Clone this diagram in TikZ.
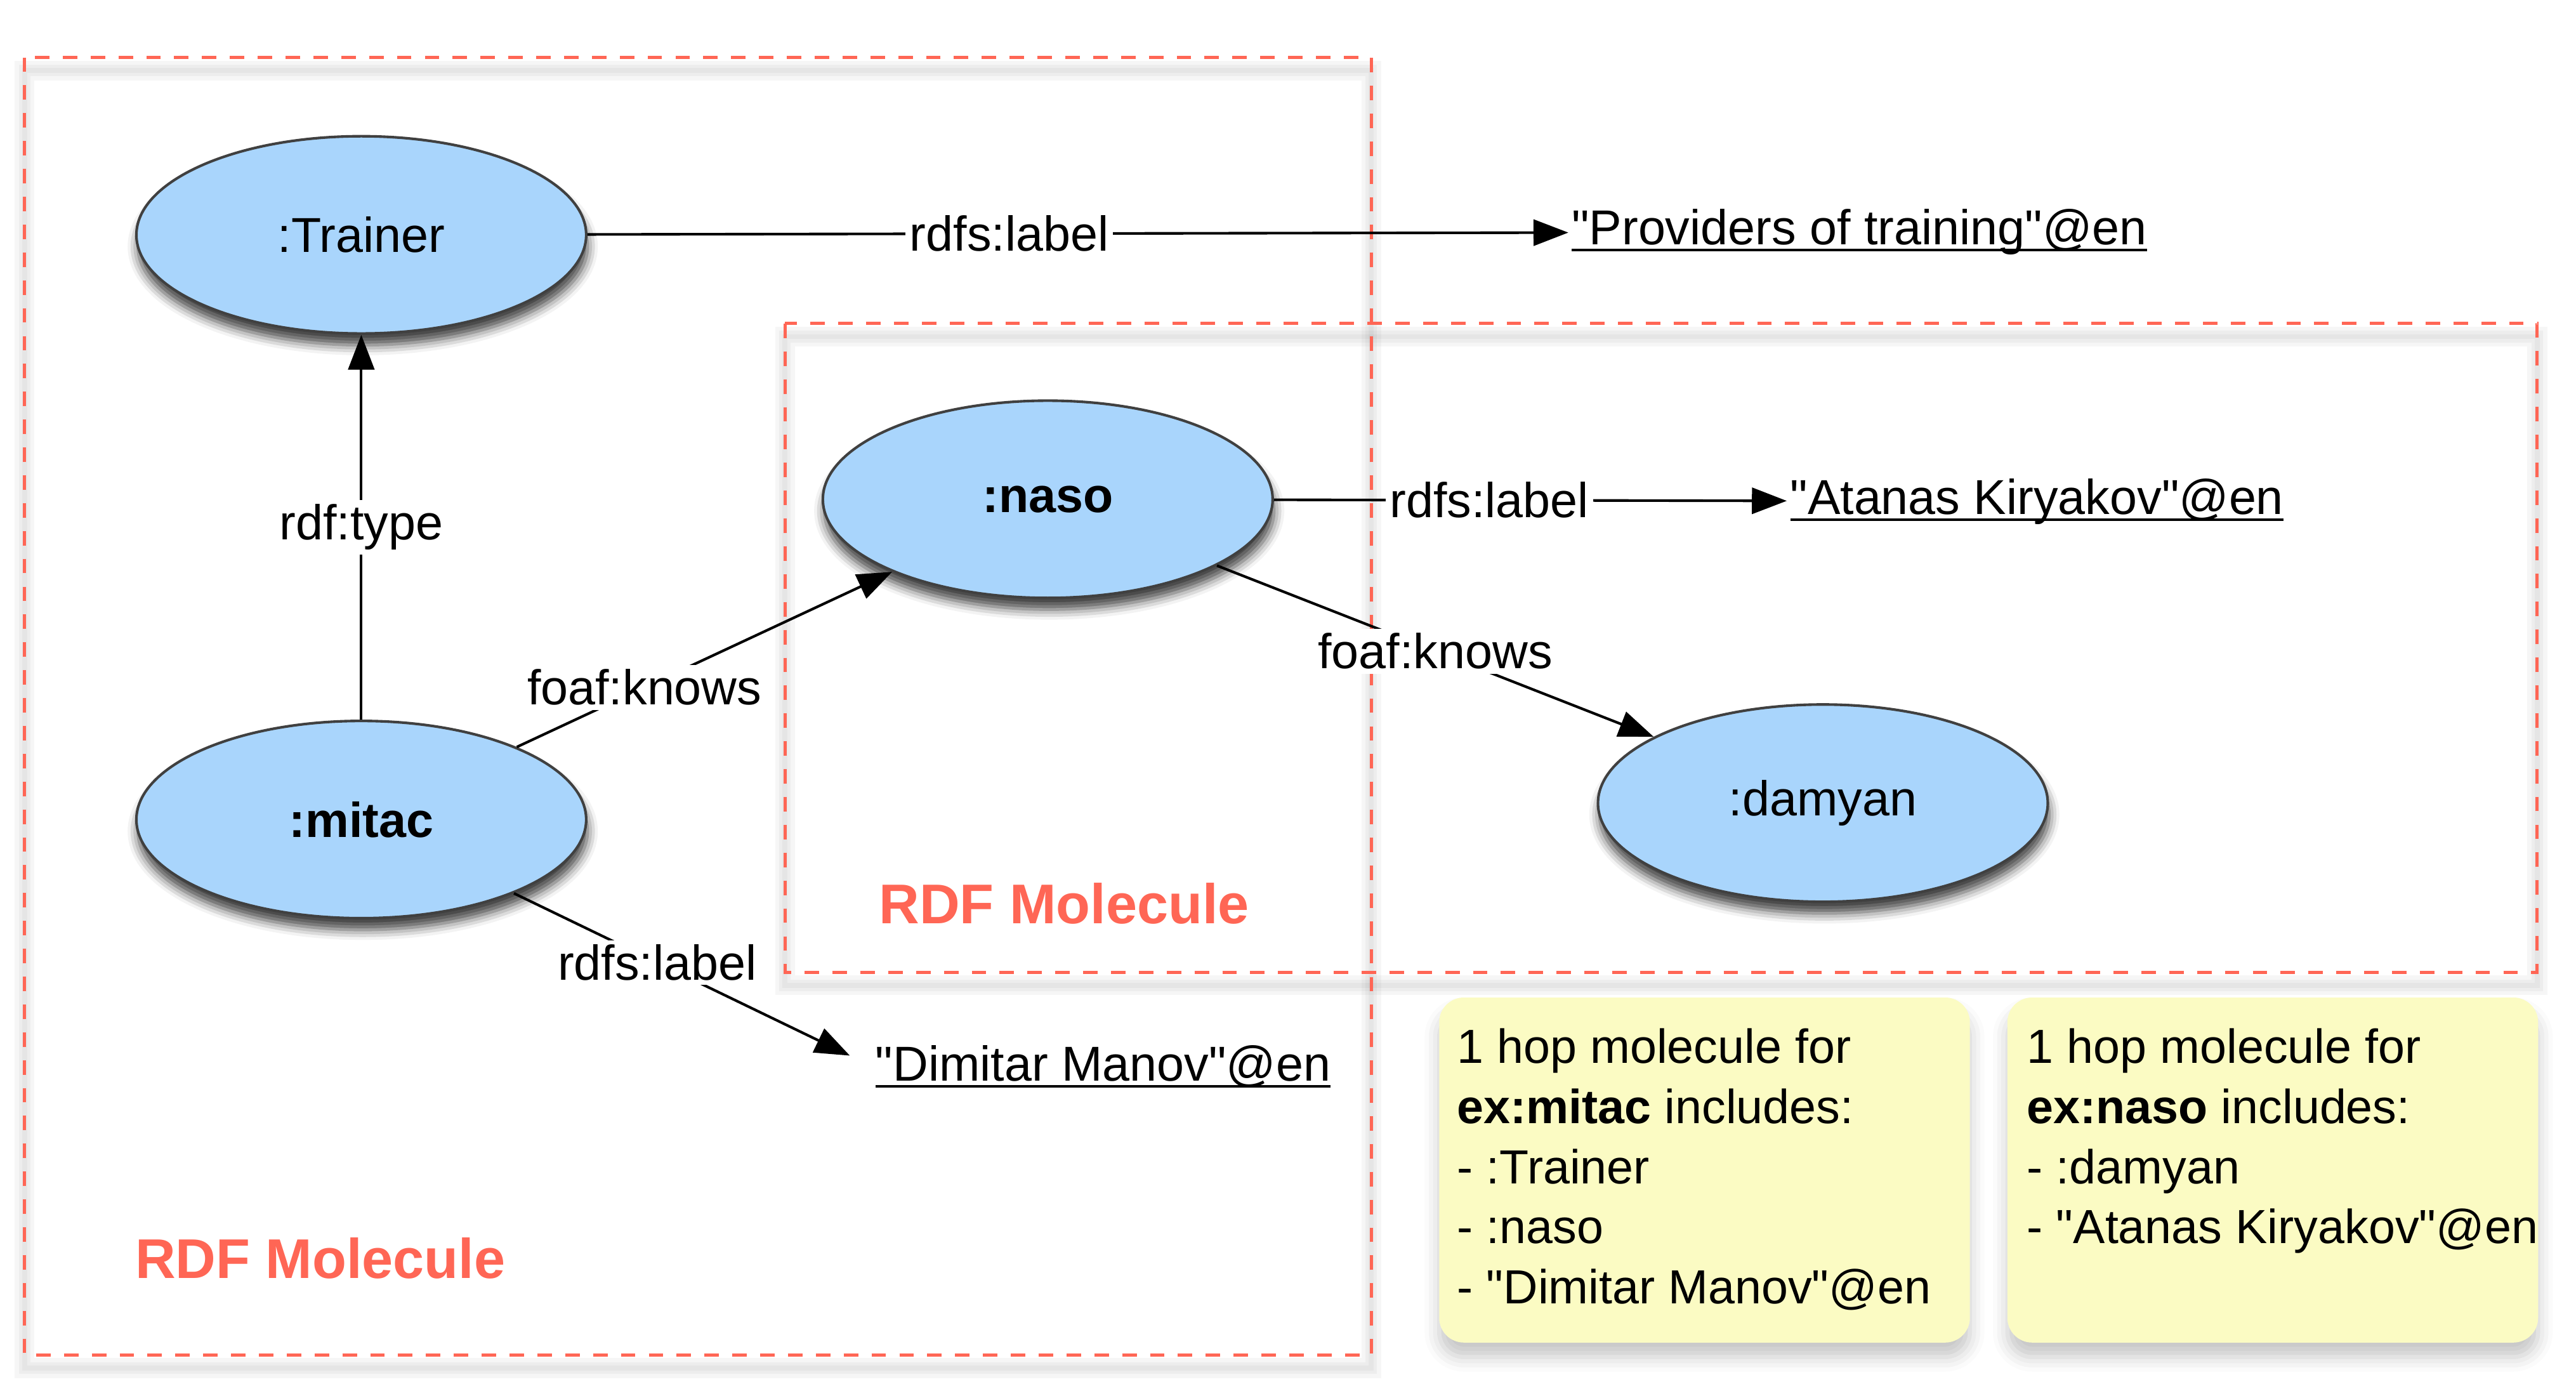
\documentclass[tikz,border=0pt]{standalone}
\usepackage{fontspec}
\setmainfont{Liberation Sans}
\usetikzlibrary{shapes.geometric,arrows.meta,shadows.blur}

\definecolor{resblue}{HTML}{A9D5FC}
\definecolor{molred}{HTML}{FF6655}
\definecolor{noteyellow}{HTML}{FBFBC3}

\newcommand{\txtsize}{\fontsize{16.9}{20.6}\selectfont}
\newcommand{\q}{\textquotedbl}
\newcommand{\litul}[1]{\setbox0\hbox{#1}\rlap{\rule[-2.3pt]{\wd0}{0.85pt}}\box0}

\tikzset{
  res/.style={ellipse, draw=black!75, line width=0.9pt, fill=resblue, inner sep=0pt,
    minimum width=5.45cm, minimum height=2.39cm,
    blur shadow={shadow xshift=0.5pt, shadow yshift=-4pt, shadow blur radius=3.5pt, shadow opacity=75}},
  lit/.style={inner sep=1pt},
  lbl/.style={fill=white, inner sep=1.5pt},
  rel/.style={line width=0.9pt, -{Triangle[length=12pt, width=9pt]}},
  molbox/.style={draw=molred, line width=1.1pt, dash pattern=on 5pt off 4.6pt},
  molshadow/.style={draw=black, opacity=0.035, yshift=-4.5pt},
  moltitle/.style={text=molred, font=\fontsize{19.3}{23}\selectfont\bfseries},
  note/.style={fill=noteyellow, rounded corners=8.5pt, minimum width=6.43cm, minimum height=4.18cm,
    anchor=north west, blur shadow={shadow xshift=0pt, shadow yshift=-5pt, shadow blur radius=5pt, shadow opacity=22}},
  notetext/.style={align=left, inner sep=0pt, anchor=north west, font=\fontsize{16.5}{20.7}\selectfont}
}

\begin{document}
\begin{tikzpicture}[x=0.01989cm, y=-0.01989cm, font=\txtsize]
\useasboundingbox (0,0) rectangle (1568.6,849.6);

% molecule boxes (with a faint shadow under the dashes)
\foreach \w in {12,7,3} {
  \draw[molshadow, line width=\w*0.569pt] (15,35) rectangle (835,825);
  \draw[molshadow, line width=\w*0.569pt] (478,197) rectangle (1545,592);
}
\draw[molbox] (15,35) rectangle (835,825);
\draw[molbox] (478,197) rectangle (1545,592);

\node[moltitle] (molA) at (195,766) {RDF Molecule};
\node[moltitle] (molB) at (648,550) {RDF Molecule};

% resources
\node[res] (trainer) at (220,143) {:Trainer};
\node[res] (naso) at (638,304) {\textbf{:naso}};
\node[res] (mitac) at (220,499) {\textbf{:mitac}};
\node[res] (damyan) at (1110,489) {:damyan};

% literals
\node[lit, anchor=base west] (providers) at (955,149) {\litul{\q Providers of training\q @en}};
\node[lit, anchor=base west] (atanas) at (1088,313) {\litul{\q Atanas Kiryakov\q @en}};
\node[lit, anchor=base west] (dimitar) at (531,658) {\litul{\q Dimitar Manov\q @en}};

% properties
\draw[rel] (trainer) -- node[lbl, pos=0.43] {rdfs:label} (providers);
\draw[rel] (mitac) -- node[lbl, pos=0.5] {rdf:type} (trainer);
\draw[rel] (mitac) -- node[lbl, pos=0.34] {foaf:knows} (naso);
\draw[rel, shorten >=8.5pt] (mitac) -- node[lbl, pos=0.4] {rdfs:label} (dimitar.west);
\draw[rel] (naso) -- node[lbl, pos=0.42] {rdfs:label} (atanas);
\draw[rel] (naso) -- node[lbl, pos=0.5] {foaf:knows} (damyan);

% notes
\node[note] (noteA) at (876,607) {};
\node[note] (noteB) at (1222,607) {};
\node[notetext] (noteAtext) at (887,626) {1 hop molecule for\\\textbf{ex:mitac} includes:\\- :Trainer\\- :naso\\- \q Dimitar Manov\q @en};
\node[notetext] (noteBtext) at (1234,626) {1 hop molecule for\\\textbf{ex:naso} includes:\\- :damyan\\- \q Atanas Kiryakov\q @en};
\end{tikzpicture}
\end{document}
